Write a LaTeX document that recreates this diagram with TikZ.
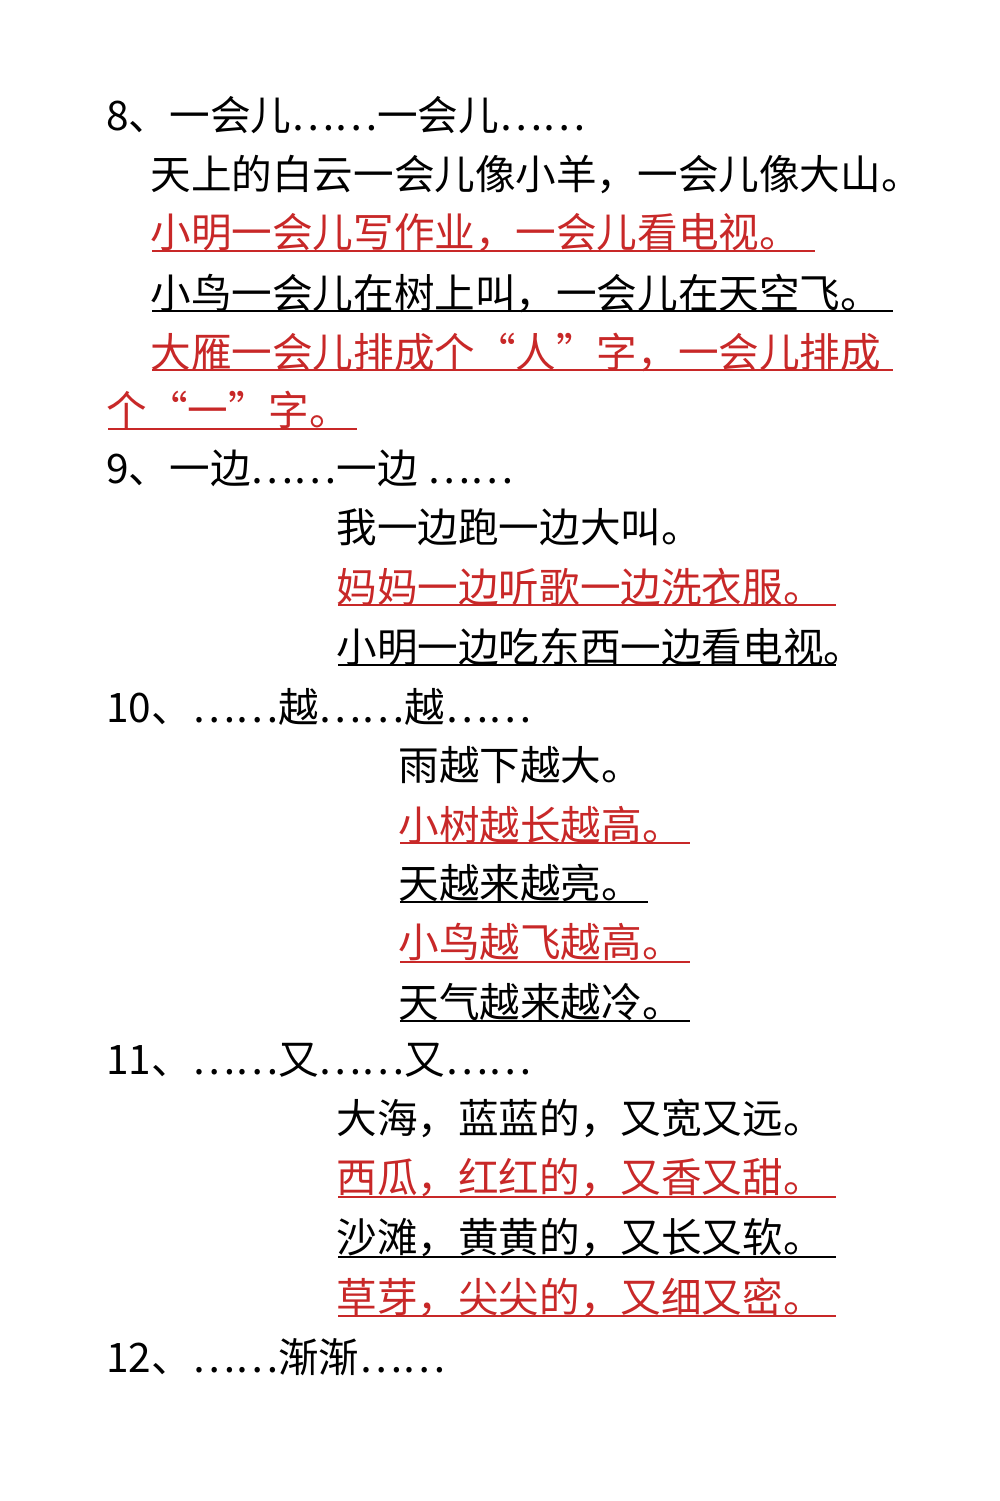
\documentclass[tikz,border=0pt]{standalone}
\usepackage{fontspec}
\setmainfont{Noto Sans CJK SC}
\definecolor{rd}{RGB}{200,40,40}
\begin{document}
\begin{tikzpicture}[x=0.5pt,y=-0.5pt,
 t/.style={anchor=west,inner sep=0pt,font=\fontsize{20.3pt}{21pt}\selectfont},
 r/.style={t,text=rd},
 ul/.style={line width=1pt},
 rul/.style={ul,draw=rd}]
\useasboundingbox (0,0) rectangle (1000,1501);
\fill[white] (0,0) rectangle (1000,1501);
\node[t] (h8) at (106,115) {8、一会儿⋯⋯一会儿⋯⋯};
\node[t] (a1) at (150,175) {天上的白云一会儿像小羊，一会儿像大山。};
\node[r] (a2) at (150,233) {小明一会儿写作业，一会儿看电视。};
\node[t] (a3) at (150,293) {小鸟一会儿在树上叫，一会儿在天空飞。};
\node[r] (a4) at (150,352) {大雁一会儿排成个“人”字，一会儿排成};
\node[r] (a5) at (106,410) {个“一”字。};
\draw[rul] (152,251)--(815,251);
\draw[ul] (152,311)--(893,311);
\draw[rul] (152,370)--(893,370);
\draw[rul] (108,429)--(357,429);
\node[t] (h9) at (106,468) {9、一边⋯⋯一边 ⋯⋯};
\node[t] (b1) at (336,527) {我一边跑一边大叫。};
\node[r] (b2) at (336,587) {妈妈一边听歌一边洗衣服。};
\node[t] (b3) at (336,647) {小明一边吃东西一边看电视。};
\draw[rul] (338,605)--(836,605);
\draw[ul] (338,665)--(836,665);
\node[t] (h10) at (106,707) {10、⋯⋯越⋯⋯越⋯⋯};
\node[t] (c1) at (398,765) {雨越下越大。};
\node[r] (c2) at (398,825) {小树越长越高。};
\node[t] (c3) at (398,883) {天越来越亮。};
\node[r] (c4) at (398,942) {小鸟越飞越高。};
\node[t] (c5) at (398,1002) {天气越来越冷。};
\draw[rul] (400,843)--(690,843);
\draw[ul] (400,902)--(648,902);
\draw[rul] (400,962)--(690,962);
\draw[ul] (400,1021)--(690,1021);
\node[t] (h11) at (106,1060) {11、⋯⋯又⋯⋯又⋯⋯};
\node[t] (d1) at (336,1118) {大海，蓝蓝的，又宽又远。};
\node[r] (d2) at (336,1178) {西瓜，红红的，又香又甜。};
\node[t] (d3) at (336,1238) {沙滩，黄黄的，又长又软。};
\node[r] (d4) at (336,1297) {草芽，尖尖的，又细又密。};
\draw[rul] (338,1197)--(836,1197);
\draw[ul] (338,1257)--(836,1257);
\draw[rul] (338,1316)--(836,1316);
\node[t] (h12) at (106,1357) {12、⋯⋯渐渐⋯⋯};
\end{tikzpicture}
\end{document}
